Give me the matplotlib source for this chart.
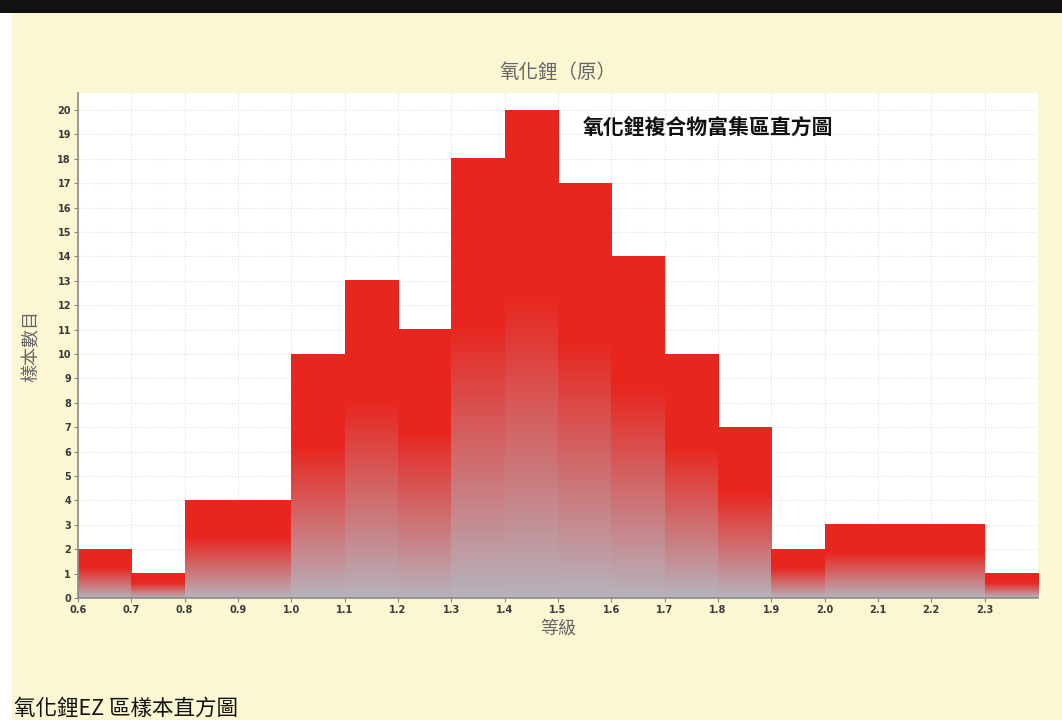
import numpy as np
import matplotlib
matplotlib.use("Agg")
import matplotlib.pyplot as plt
from matplotlib.colors import LinearSegmentedColormap
from matplotlib.patches import Rectangle

plt.rcParams['font.family'] = ['Noto Sans CJK TC', 'DejaVu Sans']

# histogram data
bin_edges = [0.6, 0.7, 0.8, 0.9, 1.0, 1.1, 1.2, 1.3, 1.4, 1.5,
             1.6, 1.7, 1.8, 1.9, 2.0, 2.1, 2.2, 2.3, 2.4]
counts = [2, 1, 4, 4, 10, 13, 11, 18, 20, 17, 14, 10, 7, 2, 3, 3, 3, 1]
x_ticks = [0.6, 0.7, 0.8, 0.9, 1.0, 1.1, 1.2, 1.3, 1.4, 1.5,
           1.6, 1.7, 1.8, 1.9, 2.0, 2.1, 2.2, 2.3]
x_tick_labels = ['0.6', '0.7', '0.8', '0.9', '1.0', '1.1', '1.2', '1.3', '1.4',
                 '1.5', '1.6', '1.7', '1.8', '1.9', '2.0', '2.1', '2.2', '2.3']
y_ticks = list(range(0, 21))

chart_title = '氧化鋰（原）'
inner_title = '氧化鋰複合物富集區直方圖'
x_label = '等級'
y_label = '樣本數目'
caption = '氧化鋰EZ 區樣本直方圖'

bg = '#fbf7d2'
red = '#e8261f'
grey = '#b7b3bd'

fig = plt.figure(figsize=(10.62, 7.2), dpi=100)
fig.patch.set_facecolor(bg)

# black band on top and white strip on the left
fig.patches.append(Rectangle((0, 1 - 13 / 720), 1, 13 / 720, transform=fig.transFigure,
                             facecolor='#111111', edgecolor='none', zorder=0))
fig.patches.append(Rectangle((0, 0), 12 / 1062, 1 - 13 / 720, transform=fig.transFigure,
                             facecolor='white', edgecolor='none', zorder=0))

ax = fig.add_axes([78 / 1062, 122 / 720, 960 / 1062, 505 / 720])
ax.set_facecolor('white')

cmap = LinearSegmentedColormap.from_list('fade', [(0, grey), (0.62, red), (1, red)])
grad = np.linspace(0, 1, 256).reshape(-1, 1)

# each bar is a vertical gradient, grey at the base to red at the top
for i, c in enumerate(counts):
    x0, x1 = bin_edges[i], bin_edges[i + 1]
    ax.imshow(grad, cmap=cmap, aspect='auto', origin='lower',
              extent=[x0, x1, 0, c], zorder=2, interpolation='bilinear')

ax.set_xlim(0.6, 2.4)
ax.set_ylim(0, 20.7)
ax.set_xticks(x_ticks)
ax.set_xticklabels(x_tick_labels)
ax.set_yticks(y_ticks)
for lab in ax.get_xticklabels() + ax.get_yticklabels():
    lab.set_fontfamily('DejaVu Sans')
    lab.set_fontweight('bold')
    lab.set_fontsize(7)
    lab.set_color('#3a3a3a')

ax.tick_params(length=3, width=0.8, color='#888888', pad=2)
ax.grid(True, color='#dddddd', linestyle=':', linewidth=0.8, zorder=0)
ax.set_axisbelow(True)
for s in ['top', 'right']:
    ax.spines[s].set_visible(False)
ax.spines['left'].set_color('#8a8a8a')
ax.spines['bottom'].set_color('#8a8a8a')
ax.spines['left'].set_linewidth(1.2)
ax.spines['bottom'].set_linewidth(1.2)

ax.set_xlabel(x_label, fontsize=13, color='#666666', labelpad=3)
ax.set_ylabel(y_label, fontsize=13, color='#666666', labelpad=12)
ax.set_title(chart_title, fontsize=14, color='#666666', pad=11)

ax.text(583 / 1062, 19.3, inner_title,
        transform=matplotlib.transforms.blended_transform_factory(fig.transFigure, ax.transData),
        fontsize=15, fontweight='bold', color='#111111', va='center', ha='left', zorder=5)

fig.text(14 / 1062, 1 - 709 / 720, caption, fontsize=15.5,
         color='#111111', ha='left', va='center')

fig.savefig('out.png', dpi=100, facecolor=fig.get_facecolor())
